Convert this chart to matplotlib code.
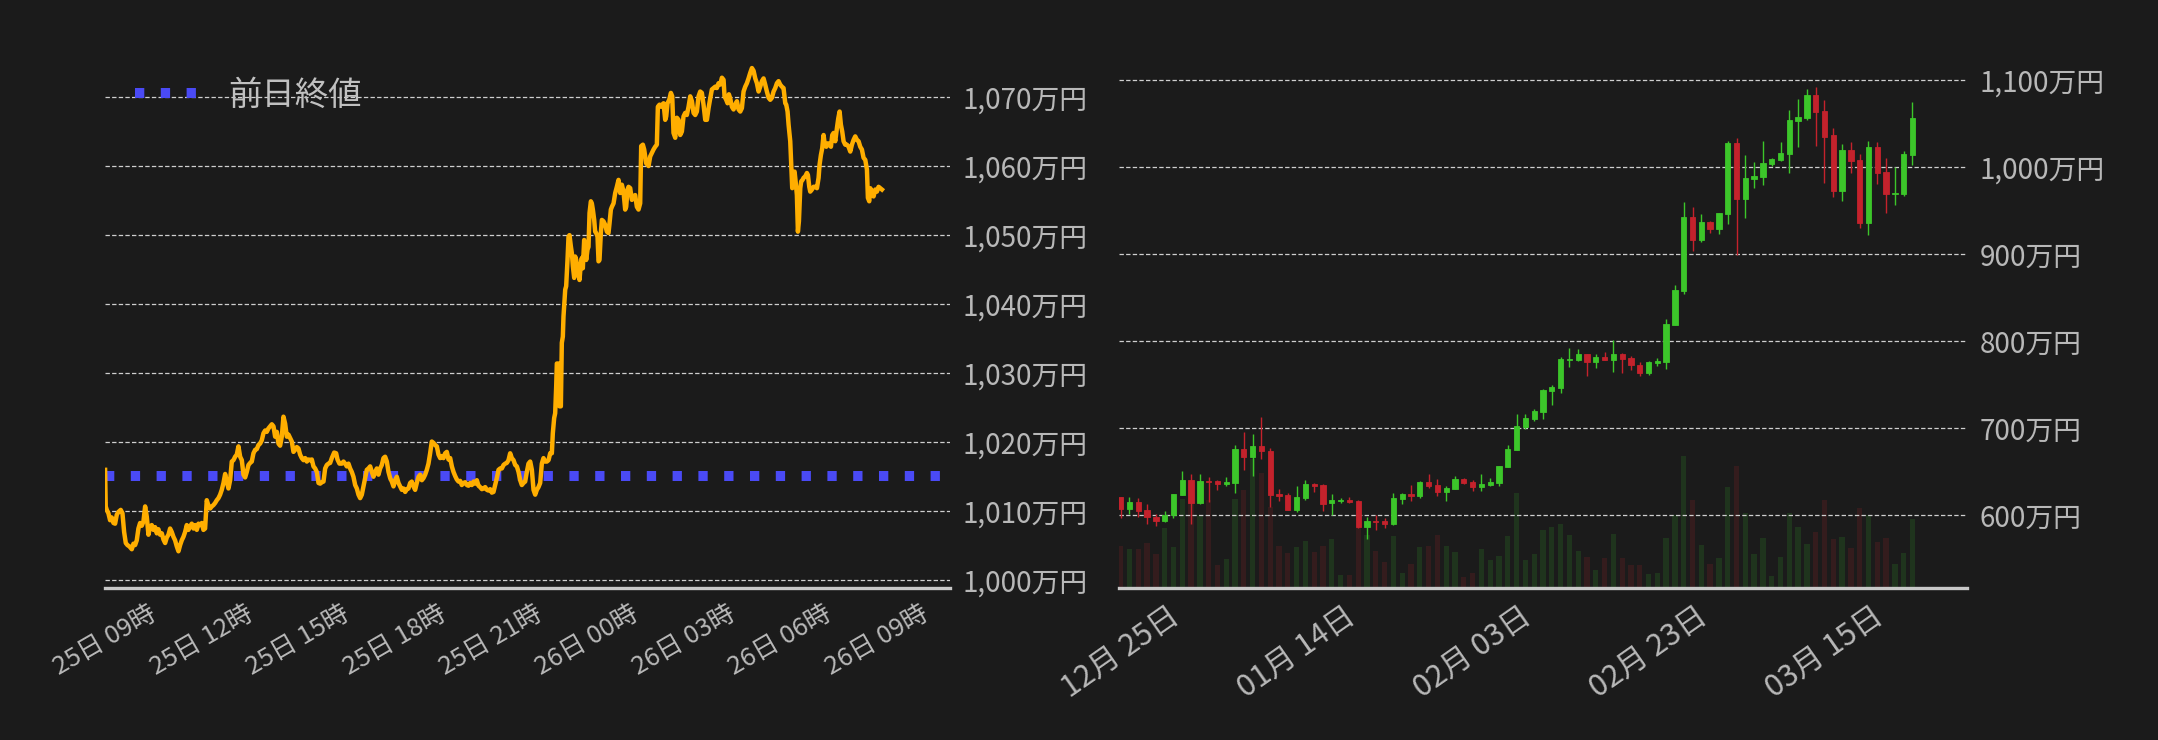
import matplotlib.pyplot as plt
import matplotlib.dates as mdates
import numpy as np
import pandas as pd

plt.rcParams['font.family'] = ['Noto Sans CJK JP', 'DejaVu Sans']

BG = '#1b1b1b'
TXT = '#b8b8b8'

# ---- intraday (minutes after 25日 09:00, price in 万円) ----
start = pd.Timestamp('2024-03-25 09:00')
minutes = [
    0.0, 1.2, 3.1, 6.2, 9.3, 12.4, 15.6, 18.7, 21.8, 24.9, 29.2, 32.4, 35.5, 38.6, 41.7, 45.4,
    49.8, 52.9, 56.0, 59.1, 62.2, 65.3, 68.4, 71.5, 74.7, 77.8, 80.9, 84.0, 87.1, 90.2, 93.3,
    96.4, 99.5, 102.6, 105.8, 108.9, 112.0, 115.1, 118.2, 121.3, 124.4, 127.5, 130.6, 133.8,
    136.9, 140.0, 143.1, 146.2, 149.3, 152.4, 155.5, 158.6, 161.7, 164.9, 168.0, 171.1, 174.2,
    177.3, 180.4, 183.5, 186.6, 189.7, 192.9, 196.0, 199.1, 202.2, 205.3, 208.4, 211.5, 214.6,
    217.7, 220.9, 224.0, 227.1, 230.2, 233.3, 236.4, 239.5, 242.6, 245.7, 248.8, 252.0, 255.1,
    258.2, 261.3, 264.4, 267.5, 270.6, 273.7, 276.8, 280.0, 283.1, 286.2, 289.3, 292.4, 295.5,
    298.6, 301.7, 304.8, 308.0, 311.1, 314.2, 317.3, 320.4, 323.5, 326.6, 329.7, 332.8, 335.9,
    339.1, 342.2, 345.3, 348.4, 351.5, 354.6, 357.7, 360.8, 363.9, 367.0, 370.2, 373.3, 376.4,
    379.5, 382.6, 385.7, 388.8, 391.9, 395.0, 398.2, 401.3, 404.4, 407.5, 410.6, 413.7, 416.8,
    419.9, 423.0, 427.4, 431.1, 433.6, 437.3, 441.7, 444.8, 447.9, 451.0, 454.1, 457.2, 460.3,
    463.4, 466.6, 469.7, 472.8, 475.9, 479.0, 482.1, 485.2, 488.3, 491.4, 494.6, 497.7, 500.8,
    503.9, 507.0, 510.1, 513.2, 516.3, 519.4, 522.5, 525.7, 528.8, 531.9, 535.0, 538.1, 541.2,
    544.3, 547.4, 550.5, 553.7, 556.8, 559.9, 563.0, 566.1, 569.2, 572.3, 575.4, 578.5, 581.6,
    584.8, 587.9, 591.0, 594.1, 597.2, 600.3, 603.4, 606.5, 609.6, 612.8, 615.9, 619.0, 622.1,
    625.2, 628.3, 631.4, 634.5, 637.6, 640.7, 643.9, 647.0, 650.1, 653.2, 656.3, 659.4, 662.5,
    665.6, 668.7, 671.9, 675.0, 678.1, 681.2, 684.3, 687.4, 690.5, 693.6, 696.7, 699.8, 703.0,
    706.1, 709.2, 712.3, 715.4, 718.5, 721.6, 724.7, 727.8, 730.9, 734.1, 737.2, 740.3, 743.4,
    746.5, 749.6, 752.7, 755.8, 758.9, 762.1, 765.2, 768.3, 771.4, 774.5, 777.6, 780.7, 783.8,
    786.9, 790.0, 793.2, 796.3, 799.4, 802.5, 805.6, 808.7, 811.8, 814.9, 818.0, 821.1, 824.3,
    827.4, 830.5, 833.6, 835.4, 837.9, 839.8, 841.7, 842.9, 846.0, 847.9, 850.4, 852.2, 854.1,
    855.3, 856.6, 858.5, 860.3, 862.8, 864.7, 866.5, 869.0, 870.9, 872.8, 875.3, 877.1, 879.0,
    881.5, 883.3, 885.2, 887.7, 889.6, 891.4, 893.9, 895.8, 897.7, 900.1, 902.0, 903.9, 906.4,
    908.2, 910.1, 912.6, 914.4, 916.3, 918.8, 920.7, 922.5, 925.0, 926.9, 930.0, 933.1, 936.2,
    939.3, 941.2, 943.7, 945.6, 948.7, 951.8, 954.9, 958.0, 961.1, 964.2, 967.3, 970.4, 972.3,
    974.8, 976.7, 979.8, 982.9, 986.0, 989.1, 992.2, 995.3, 998.4, 1000.3, 1003.4, 1005.9,
    1009.6, 1014.0, 1017.1, 1020.2, 1023.3, 1026.4, 1029.5, 1031.4, 1034.5, 1037.0, 1039.5,
    1042.0, 1045.1, 1047.0, 1049.4, 1052.6, 1055.7, 1058.2, 1060.6, 1063.8, 1066.9, 1070.0,
    1073.1, 1076.2, 1079.3, 1082.4, 1085.5, 1088.7, 1091.8, 1094.9, 1098.0, 1101.1, 1104.2,
    1107.3, 1110.4, 1113.5, 1116.6, 1119.8, 1122.9, 1126.0, 1129.1, 1132.2, 1135.3, 1138.4,
    1141.5, 1144.6, 1147.7, 1150.9, 1154.0, 1155.8, 1158.9, 1161.4, 1163.9, 1166.4, 1169.5,
    1172.6, 1175.7, 1178.9, 1182.0, 1185.1, 1188.2, 1191.3, 1194.4, 1197.5, 1200.6, 1203.7,
    1206.9, 1210.0, 1213.1, 1216.2, 1219.3, 1222.4, 1225.5, 1228.6, 1231.7, 1234.8, 1238.0,
    1241.1, 1244.2, 1247.3, 1250.4, 1253.5, 1256.6, 1259.7, 1262.8, 1265.9, 1269.1, 1270.9,
    1273.4, 1275.3, 1278.4, 1280.3, 1282.1, 1284.6, 1286.5, 1288.4, 1290.8, 1292.7, 1294.6,
    1297.1, 1298.9, 1301.4, 1303.3, 1306.4, 1309.5, 1311.4, 1313.9, 1315.7, 1318.8, 1321.9,
    1325.1, 1328.2, 1331.3, 1333.1, 1335.6, 1338.1, 1340.6, 1342.5, 1345.6, 1348.7, 1351.8,
    1354.3, 1356.8, 1359.3, 1362.4, 1365.5, 1368.0, 1370.5, 1372.9, 1375.4, 1377.9, 1381.0,
    1384.1, 1387.2, 1390.4, 1393.5, 1396.6, 1399.7, 1402.8, 1405.9, 1409.0, 1412.1, 1415.2,
    1418.4, 1421.5, 1423.3, 1425.8, 1427.7, 1430.8, 1433.9, 1437.0, 1440.1, 1443.2, 1446.3,
    1449.5,
]
prices = [
    1016.0, 1010.7, 1010.2, 1009.7, 1008.7, 1009.1, 1008.3, 1008.2, 1009.5, 1009.9, 1010.2,
    1009.7, 1007.0, 1005.4, 1005.1, 1004.9, 1004.5, 1005.3, 1005.1, 1005.8, 1007.5, 1008.3,
    1007.9, 1008.5, 1010.7, 1009.2, 1006.6, 1007.8, 1008.0, 1007.3, 1007.7, 1006.8, 1007.4,
    1006.6, 1006.8, 1005.9, 1005.4, 1006.2, 1006.6, 1007.5, 1007.0, 1006.3, 1005.8, 1004.9,
    1004.2, 1005.1, 1005.8, 1006.3, 1007.0, 1008.0, 1007.3, 1007.8, 1008.2, 1007.5, 1008.0,
    1007.3, 1008.2, 1008.0, 1008.3, 1007.3, 1007.5, 1011.6, 1010.8, 1010.4, 1010.7, 1010.9,
    1011.2, 1011.6, 1011.9, 1012.4, 1013.1, 1014.1, 1015.4, 1014.3, 1013.3, 1014.5, 1017.2,
    1017.4, 1017.9, 1018.2, 1019.4, 1017.9, 1017.4, 1015.3, 1014.9, 1015.7, 1016.7, 1017.0,
    1017.2, 1018.4, 1018.9, 1019.0, 1019.6, 1019.8, 1020.3, 1021.3, 1021.7, 1021.5, 1022.0,
    1022.3, 1022.6, 1022.3, 1020.8, 1021.5, 1019.8, 1019.5, 1020.8, 1023.7, 1022.7, 1020.8,
    1021.1, 1020.6, 1020.1, 1018.6, 1018.9, 1019.3, 1019.1, 1018.2, 1017.7, 1017.4, 1017.7,
    1017.2, 1017.5, 1017.4, 1017.5, 1016.5, 1016.2, 1015.7, 1014.1, 1014.0, 1014.2, 1014.3,
    1016.2, 1016.7, 1016.9, 1017.0, 1017.7, 1018.5, 1018.4, 1017.5, 1016.9, 1016.9, 1017.2,
    1016.9, 1016.5, 1016.9, 1016.2, 1015.7, 1015.0, 1013.8, 1013.3, 1012.4, 1011.9, 1012.4,
    1013.6, 1014.8, 1016.0, 1016.2, 1016.5, 1015.7, 1015.0, 1015.7, 1016.2, 1015.3, 1016.2,
    1016.7, 1017.7, 1017.9, 1017.2, 1015.7, 1014.8, 1014.3, 1013.6, 1014.5, 1015.0, 1014.1,
    1013.6, 1013.1, 1013.3, 1012.8, 1013.2, 1013.3, 1014.1, 1014.3, 1013.6, 1013.1, 1014.1,
    1015.0, 1015.3, 1014.5, 1014.8, 1015.3, 1016.0, 1016.9, 1018.4, 1020.1, 1019.9, 1019.6,
    1019.4, 1018.2, 1017.7, 1018.0, 1017.7, 1018.4, 1018.6, 1017.5, 1017.7, 1016.5, 1015.7,
    1015.1, 1014.6, 1014.3, 1014.4, 1013.8, 1014.1, 1014.2, 1013.8, 1013.7, 1014.1, 1013.8,
    1014.3, 1014.0, 1014.5, 1013.7, 1013.5, 1013.2, 1013.3, 1013.5, 1013.1, 1013.0, 1013.2,
    1012.7, 1012.8, 1013.8, 1014.8, 1016.0, 1016.2, 1016.2, 1016.7, 1016.9, 1017.0, 1017.4,
    1018.4, 1017.7, 1017.4, 1016.7, 1016.5, 1015.7, 1014.5, 1013.8, 1014.1, 1014.3, 1015.7,
    1016.9, 1017.2, 1016.0, 1013.1, 1012.4, 1013.1, 1013.5, 1014.1, 1016.9, 1017.7, 1017.2,
    1017.2, 1017.4, 1018.4, 1018.4, 1021.3, 1023.5, 1024.2, 1028.1, 1031.4, 1031.4, 1025.2,
    1025.2, 1034.4, 1035.3, 1038.2, 1039.7, 1042.1, 1042.6, 1046.4, 1049.8, 1050.0, 1048.4,
    1047.4, 1045.5, 1043.8, 1046.9, 1046.4, 1045.2, 1044.5, 1043.5, 1045.9, 1046.7, 1045.2,
    1049.3, 1047.9, 1046.4, 1047.9, 1048.3, 1053.2, 1054.9, 1054.6, 1053.7, 1052.2, 1050.5,
    1050.3, 1049.8, 1046.2, 1046.4, 1050.3, 1052.2, 1052.0, 1051.5, 1050.5, 1050.3, 1051.7,
    1053.7, 1054.1, 1054.6, 1056.1, 1057.0, 1058.0, 1056.1, 1057.3, 1056.3, 1053.7, 1054.1,
    1056.6, 1057.0, 1056.8, 1055.1, 1055.6, 1055.8, 1054.1, 1053.7, 1054.6, 1062.9, 1063.1,
    1062.4, 1060.4, 1060.0, 1061.4, 1061.9, 1062.4, 1062.8, 1063.1, 1068.6, 1068.9, 1068.6,
    1068.9, 1069.1, 1066.7, 1067.2, 1069.1, 1069.6, 1070.6, 1070.1, 1064.8, 1064.1, 1067.0,
    1066.7, 1064.5, 1065.0, 1067.2, 1067.7, 1067.4, 1068.6, 1070.1, 1069.4, 1067.7, 1067.4,
    1067.9, 1070.1, 1070.8, 1070.6, 1068.9, 1066.7, 1066.7, 1068.4, 1069.8, 1071.1, 1071.3,
    1071.5, 1071.3, 1072.0, 1071.8, 1072.8, 1072.5, 1070.1, 1069.6, 1069.1, 1070.4, 1069.8,
    1068.6, 1068.2, 1068.9, 1069.4, 1068.2, 1067.9, 1068.4, 1070.8, 1071.5, 1072.0, 1072.7,
    1073.5, 1074.2, 1073.8, 1072.7, 1072.0, 1070.8, 1071.5, 1072.3, 1072.7, 1071.8, 1070.8,
    1069.9, 1069.6, 1069.9, 1070.8, 1071.3, 1072.0, 1072.3, 1071.8, 1071.5, 1071.3, 1069.1,
    1068.9, 1067.9, 1066.0, 1063.6, 1060.2, 1056.8, 1059.0, 1059.2, 1057.8, 1055.8, 1050.5,
    1052.0, 1056.8, 1057.8, 1058.0, 1058.3, 1058.5, 1059.0, 1058.7, 1057.0, 1056.3, 1056.6,
    1057.0, 1057.0, 1056.8, 1058.3, 1060.2, 1061.6, 1062.6, 1064.5, 1063.3, 1062.8, 1063.3,
    1063.1, 1062.8, 1064.5, 1064.8, 1063.6, 1065.5, 1066.9, 1067.9, 1066.0, 1065.0, 1063.6,
    1063.1, 1063.1, 1062.8, 1062.1, 1063.1, 1063.8, 1064.3, 1063.8, 1063.6, 1062.8, 1062.4,
    1061.2, 1060.9, 1059.5, 1055.4, 1054.9, 1056.8, 1056.3, 1055.6, 1056.6, 1056.3, 1057.0,
    1056.8, 1056.6,
]
prev_close = 1015.1

# ---- daily candles (万円) ----
opens = [
    620.7, 607.6, 615.3, 606.1, 598.0, 593.8, 600.0, 623.7, 640.6, 614.5, 639.8, 639.4, 636.4,
    637.5, 676.2, 667.4, 679.7, 673.9, 624.5, 623.3, 606.5, 620.3, 636.0, 634.8, 614.5, 616.8,
    617.6, 616.4, 586.9, 593.4, 593.4, 590.0, 619.1, 624.5, 622.2, 638.3, 634.8, 627.2, 630.6,
    641.3, 638.3, 632.9, 635.2, 637.5, 655.9, 675.4, 701.5, 711.1, 719.1, 743.3, 746.7, 778.9,
    778.5, 785.4, 776.2, 782.0, 778.5, 785.4, 780.8, 772.8, 763.6, 775.1, 776.2, 818.7, 858.2,
    942.9, 916.4, 937.1, 929.1, 946.3, 1027.9, 963.6, 986.6, 988.9, 1003.8, 1008.4, 1015.3,
    1053.2, 1056.7, 1083.1, 1064.7, 1037.1, 972.8, 1019.9, 1008.4, 936.0, 1023.3, 994.6, 969.3,
    969.3, 1014.1,
]
highs = [
    621.4, 621.0, 619.9, 613.0, 601.5, 604.9, 624.5, 650.9, 647.5, 647.5, 644.0, 640.6, 644.0,
    680.8, 696.1, 693.4, 713.0, 677.4, 630.2, 625.2, 633.7, 640.6, 637.1, 636.0, 624.5, 619.9,
    621.0, 617.6, 598.0, 600.3, 596.9, 625.6, 625.6, 634.8, 639.4, 647.5, 641.7, 633.7, 645.2,
    642.5, 640.6, 647.5, 642.9, 656.7, 680.8, 716.4, 716.4, 722.2, 745.2, 749.8, 782.0, 792.3,
    791.1, 785.4, 785.4, 787.7, 801.5, 786.6, 783.1, 776.2, 777.4, 780.8, 825.6, 864.7, 960.1,
    954.4, 946.3, 938.3, 947.5, 1030.2, 1033.7, 1014.1, 1006.1, 1030.2, 1010.7, 1029.1, 1065.9,
    1078.5, 1090.0, 1092.3, 1077.4, 1045.2, 1026.8, 1029.1, 1015.3, 1030.2, 1029.1, 1010.7,
    1000.3, 1018.7, 1075.1,
]
lows = [
    597.3, 601.5, 598.4, 590.0, 587.7, 592.3, 597.3, 623.7, 590.0, 613.0, 615.3, 629.1, 633.7,
    626.0, 652.1, 645.2, 664.7, 609.5, 616.4, 606.1, 603.8, 617.6, 626.8, 604.9, 600.0, 614.5,
    614.1, 585.4, 572.8, 583.1, 585.4, 588.9, 613.0, 616.4, 619.9, 631.4, 622.2, 616.4, 630.6,
    636.0, 628.3, 628.3, 633.7, 633.7, 655.9, 675.4, 699.2, 708.4, 710.7, 726.8, 741.0, 770.5,
    777.4, 760.1, 769.3, 778.5, 764.7, 763.6, 767.0, 760.1, 761.3, 771.6, 768.2, 818.7, 854.4,
    903.8, 914.1, 924.5, 923.3, 934.8, 899.2, 941.7, 976.2, 979.7, 1001.5, 1007.2, 993.4,
    1023.3, 1054.4, 1024.5, 982.0, 965.9, 961.3, 993.4, 930.2, 922.2, 980.8, 947.5, 956.7,
    967.0, 1002.6,
]
closes = [
    607.6, 615.3, 604.9, 597.7, 593.8, 600.3, 624.5, 640.6, 614.5, 639.4, 638.7, 636.4, 638.3,
    676.2, 667.4, 679.7, 674.3, 623.7, 622.6, 606.5, 621.0, 636.0, 634.1, 613.4, 617.6, 617.6,
    615.7, 586.6, 593.4, 592.7, 590.4, 619.9, 624.5, 622.2, 638.3, 633.7, 627.2, 631.4, 641.3,
    637.5, 632.9, 636.0, 638.3, 656.7, 676.2, 702.6, 711.8, 719.9, 744.0, 747.5, 779.7, 779.7,
    785.4, 776.6, 782.0, 778.9, 785.4, 780.0, 772.8, 763.6, 776.2, 777.4, 819.9, 859.0, 942.9,
    916.4, 937.1, 929.1, 947.5, 1027.9, 963.6, 987.7, 990.0, 1004.9, 1009.5, 1016.4, 1054.4,
    1057.8, 1083.1, 1063.6, 1034.8, 972.8, 1019.9, 1007.2, 936.0, 1023.3, 993.4, 969.3, 970.5,
    1015.3, 1056.7,
]
volumes = [
    42.3, 39.3, 39.3, 45.3, 34.3, 60.3, 41.3, 89.3, 85.0, 73.3, 88.3, 23.3, 29.3, 89.3, 98.3,
    129.3, 115.3, 81.7, 42.3, 35.3, 41.3, 47.3, 36.3, 42.3, 49.3, 13.3, 13.3, 61.0, 53.3, 37.3,
    26.3, 52.3, 15.3, 24.3, 41.3, 42.3, 53.3, 42.3, 36.3, 11.7, 15.7, 39.3, 28.3, 32.3, 52.3,
    95.3, 28.3, 34.3, 58.3, 61.3, 64.3, 53.3, 37.3, 31.3, 18.3, 30.3, 54.3, 30.3, 23.3, 23.3,
    14.3, 15.3, 50.3, 73.3, 132.3, 88.3, 43.3, 24.3, 30.3, 101.3, 122.3, 75.3, 34.3, 50.3,
    12.3, 31.3, 75.3, 61.3, 44.3, 56.3, 88.3, 49.3, 51.3, 40.3, 80.3, 73.3, 46.3, 50.3, 24.3,
    35.3, 69.3,
]
date_ticks = [0, 20, 40, 60, 80]
date_labels = ['12月 25日', '01月 14日', '02月 03日', '02月 23日', '03月 15日']

fig = plt.figure(figsize=(21.58, 7.40), dpi=100, facecolor=BG)
ax1 = fig.add_axes([0.0487, 0.205, 0.3916, 0.7301])
ax2 = fig.add_axes([0.5185, 0.205, 0.3930, 0.7301])


def style_axis(ax):
    ax.set_facecolor(BG)
    for s in ['top', 'left', 'right']:
        ax.spines[s].set_visible(False)
    ax.spines['bottom'].set_color('#c8c8c8')
    ax.spines['bottom'].set_linewidth(2.4)
    ax.yaxis.tick_right()
    ax.tick_params(axis='both', length=0, colors=TXT)
    ax.tick_params(axis='y', pad=9, labelsize=20)
    ax.tick_params(axis='x', pad=9)
    ax.yaxis.grid(True, color='#cfcfcf', linestyle=(0, (3.5, 1.8)), linewidth=0.9)
    ax.set_axisbelow(True)


# left: intraday line
times = start + pd.to_timedelta(minutes, unit='min')
style_axis(ax1)
ax1.plot(times, prices, color='#ffae00', lw=3.2, zorder=3)
ax1.axhline(prev_close, color='#4a4af5', lw=7.2, linestyle=(0, (0.93, 1.65)),
            label='前日終値', zorder=2)
ax1.set_ylim(998.84, 1077.1)
ax1.set_xlim(start, start + pd.Timedelta(hours=26.28))
ax1.set_yticks(np.arange(1000, 1071, 10))
ax1.yaxis.set_major_formatter(plt.FuncFormatter(lambda v, p: f'{v:,.0f}万円'))
ax1.xaxis.set_major_locator(mdates.HourLocator(byhour=range(0, 24, 3)))
ax1.xaxis.set_major_formatter(mdates.DateFormatter('%d日 %H時'))
for lab in ax1.get_xticklabels():
    lab.set_rotation(30)
    lab.set_ha('center')
    lab.set_fontsize(18.5)
ax1.legend(loc='upper left', frameon=False, fontsize=24, labelcolor='#c0c0c0')

# right: daily candles + volume
style_axis(ax2)
x = np.arange(len(opens))
o = np.array(opens)
c = np.array(closes)
up = c >= o
cols = np.where(up, '#3cc62a', '#c4222c')

axv = ax2.twinx()
axv.bar(x, volumes, width=0.6, color=cols, alpha=0.15, zorder=1)
axv.set_ylim(0, max(volumes) * 4.08)
axv.axis('off')
ax2.set_zorder(axv.get_zorder() + 1)
ax2.patch.set_visible(False)
ax2.yaxis.tick_right()
ax2.tick_params(axis='y', length=0, pad=9, labelsize=20, colors=TXT)

ax2.vlines(x, lows, highs, colors=cols, lw=1.0, zorder=3)
body_h = np.maximum(np.abs(c - o), 0.8)
ax2.bar(x, body_h, bottom=np.minimum(o, c), width=0.6, color=cols,
        edgecolor=cols, lw=0.6, zorder=4)
ax2.set_xlim(-0.2, 96.2)
ax2.set_ylim(516, 1137)
ax2.set_yticks(np.arange(600, 1101, 100))
ax2.yaxis.set_major_formatter(plt.FuncFormatter(lambda v, p: f'{v:,.0f}万円'))
ax2.set_xticks(date_ticks)
ax2.set_xticklabels(date_labels, rotation=35, ha='center', fontsize=22)

fig.savefig('out.png', dpi=100, facecolor=BG)
